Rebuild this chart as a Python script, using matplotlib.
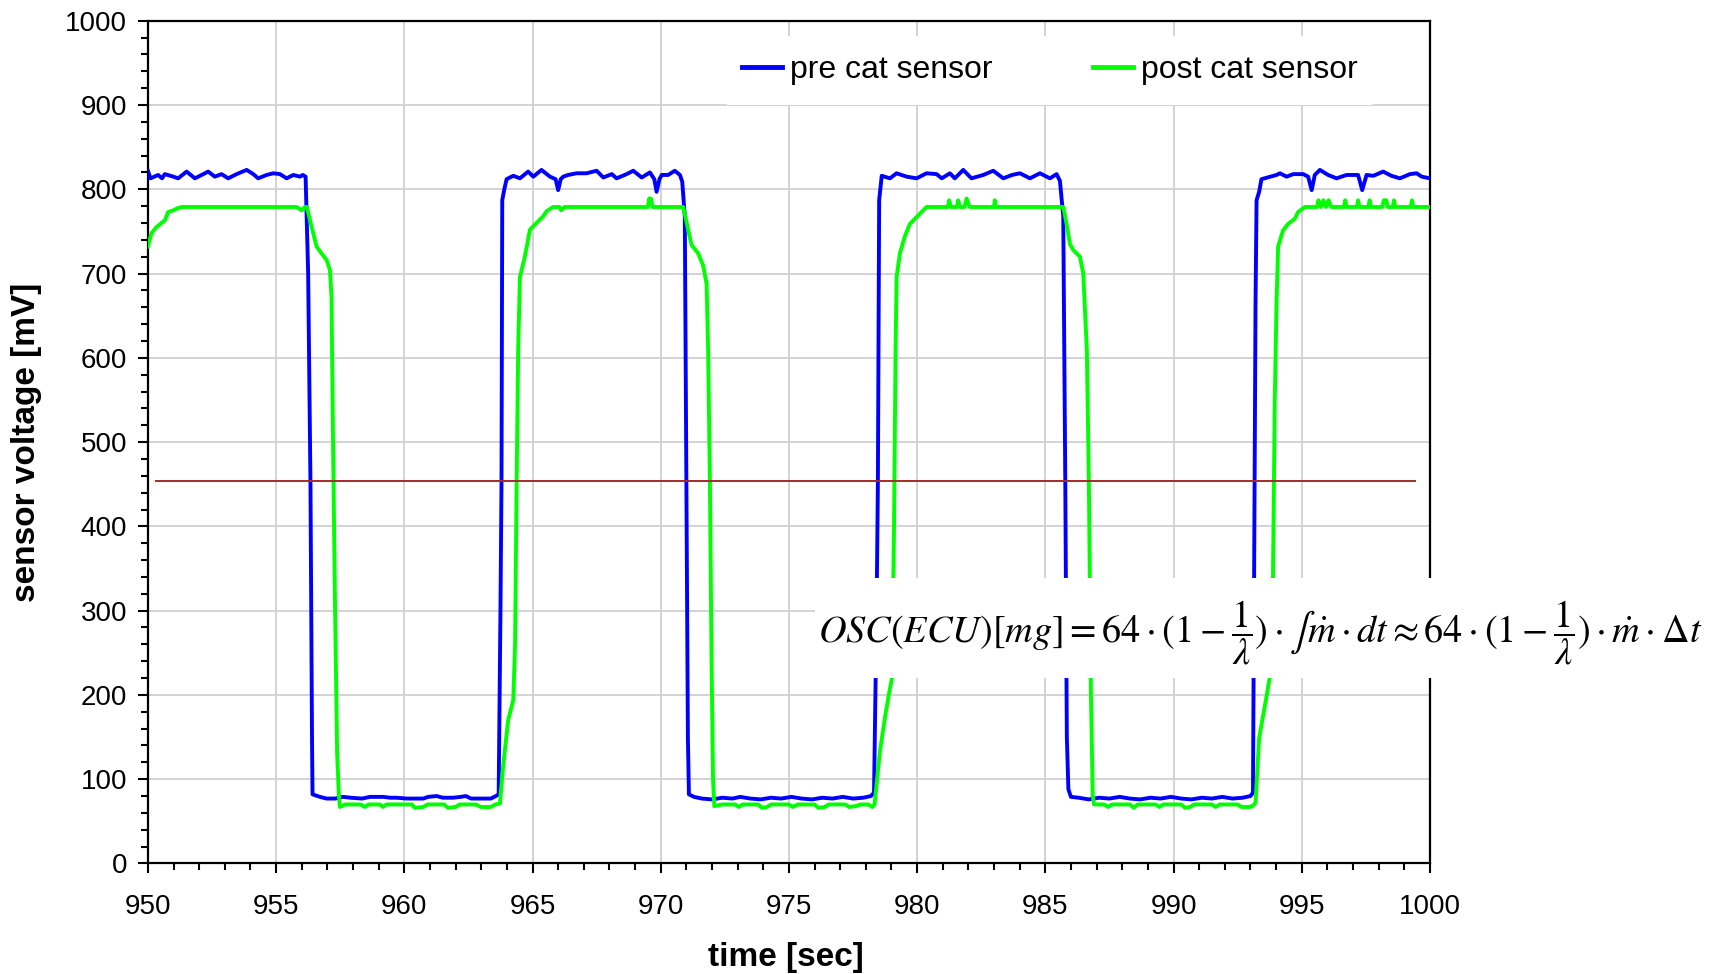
import matplotlib
matplotlib.use("Agg")
import matplotlib.pyplot as plt
from matplotlib.patches import Rectangle
from matplotlib.ticker import MultipleLocator

plt.rcParams['font.family'] = ['Liberation Sans', 'DejaVu Sans']
plt.rcParams['mathtext.fontset'] = 'stix'

# pre cat sensor (blue), time [sec] / voltage [mV]
pre_t = [950.0, 950.1, 950.4, 950.55, 950.66, 950.99, 951.18, 951.51, 951.83, 952.03,
         952.35, 952.61, 952.87, 953.13, 953.46, 953.85, 954.11, 954.3, 954.63, 954.89,
         955.15, 955.41, 955.67, 955.93, 956.04, 956.15,
         956.25, 956.34, 956.4, 956.42,
         956.71, 956.97, 957.3, 957.62, 957.9, 958.35, 958.66, 959.18, 959.45, 959.7,
         960.09, 960.74, 960.93, 961.26, 961.5, 961.9, 962.2, 962.4, 962.6, 963.38,
         963.57, 963.68,
         963.75, 963.79, 963.82, 963.9, 963.99,
         964.25, 964.51, 964.83, 965.03, 965.35, 965.68, 965.9, 966.0, 966.1, 966.2,
         966.39, 966.72, 967.11, 967.5, 967.76, 968.09, 968.28, 968.67, 968.93, 969.26,
         969.58, 969.75, 969.84, 969.95, 970.04, 970.29, 970.55, 970.75, 970.84, 970.94,
         971.0, 971.06, 971.1,
         971.3, 971.6, 972.0, 972.4, 972.8, 973.1, 973.5, 973.9, 974.3, 974.7,
         975.1, 975.5, 975.9, 976.3, 976.7, 977.1, 977.5, 977.9, 978.2, 978.32,
         978.42, 978.47, 978.52, 978.62,
         978.94, 979.2, 979.59, 979.98, 980.37, 980.76, 980.96, 981.28, 981.47, 981.8,
         982.12, 982.58, 982.97, 983.36, 983.7, 984.01, 984.4, 984.79, 985.18, 985.44,
         985.57, 985.7,
         985.78, 985.84, 985.9,
         986.0, 986.3, 986.7, 987.1, 987.5, 987.9, 988.3, 988.7, 989.1, 989.5,
         989.9, 990.3, 990.7, 991.1, 991.5, 991.9, 992.3, 992.7, 993.0, 993.1,
         993.16, 993.2, 993.24, 993.34, 993.43,
         994.02, 994.15, 994.41, 994.67, 995.06, 995.25, 995.39, 995.51, 995.71, 996.03,
         996.36, 996.75, 997.2, 997.36, 997.53, 997.79, 998.18, 998.5, 998.83, 999.22,
         999.48, 999.68, 1000.0]
pre_v = [822, 813, 817, 813, 818, 815, 813, 821, 813, 816,
         821, 815, 818, 813, 818, 823, 818, 813, 817, 819,
         818, 813, 817, 815, 817, 815,
         700, 450, 150, 82,
         79, 77, 77, 79, 78, 77, 79, 79, 78, 78,
         77, 77, 79, 80, 78, 78, 79, 80, 77, 77,
         80, 82,
         300, 450, 787, 800, 812,
         816, 813, 821, 815, 823, 815, 812, 799, 812, 815,
         817, 819, 819, 822, 814, 818, 813, 818, 822, 814,
         820, 812, 797, 812, 817, 817, 822, 817, 809, 768,
         450, 150, 82,
         79, 77, 76, 78, 77, 79, 77, 76, 78, 77,
         79, 77, 76, 78, 77, 79, 77, 78, 80, 84,
         300, 450, 787, 816,
         813, 819, 815, 813, 819, 818, 813, 819, 813, 823,
         813, 817, 822, 813, 817, 819, 813, 819, 813, 818,
         810, 768,
         450, 150, 88,
         79, 78, 76, 78, 77, 79, 77, 76, 78, 77,
         79, 77, 76, 78, 77, 79, 77, 78, 80, 84,
         450, 668, 787, 797, 812,
         817, 819, 815, 818, 818, 815, 799, 817, 823, 817,
         813, 817, 817, 799, 817, 816, 821, 816, 813, 818,
         819, 815, 813]

# post cat sensor (green)
post_t = [950.0, 950.14, 950.33, 950.53, 950.66, 950.79, 950.99, 951.12, 951.31, 955.8,
          956.0, 956.12, 956.2, 956.38, 956.58, 956.77, 956.97, 957.1, 957.16, 957.22,
          957.3, 957.38, 957.45, 957.49,
          957.69, 958.3, 958.46, 958.6, 959.05, 959.17, 959.3, 960.3, 960.41, 960.74,
          960.9, 961.55, 961.7, 962.0, 962.15, 962.8, 962.98, 963.38, 963.55, 963.73,
          963.85, 964.05, 964.25, 964.32, 964.38, 964.44, 964.51, 964.7, 964.9, 965.09,
          965.42, 965.55, 965.8, 966.05, 966.12, 966.25, 969.5, 969.55, 969.62, 969.68,
          970.88, 971.07, 971.2, 971.46, 971.65, 971.79, 971.85, 971.92, 971.98, 972.04,
          972.09,
          972.4, 972.9, 973.05, 973.2, 973.8, 973.95, 974.15, 974.3, 975.0, 975.15,
          975.35, 976.0, 976.15, 976.4, 976.55, 977.2, 977.35, 977.6, 977.8, 978.1,
          978.25, 978.34,
          978.55, 978.75, 978.89, 979.02, 979.1, 979.16, 979.2, 979.33, 979.52, 979.72,
          979.98, 980.17, 980.37, 981.2, 981.25, 981.32, 981.55, 981.6, 981.67, 981.85,
          981.93, 982.05, 983.0, 983.03, 983.08, 985.7, 985.83, 985.96, 986.09, 986.35,
          986.48, 986.62, 986.7, 986.78, 986.85, 986.9,
          987.3, 987.45, 987.6, 988.3, 988.45, 988.6, 989.3, 989.45, 989.6, 990.3,
          990.45, 990.65, 990.8, 991.5, 991.65, 991.8, 992.5, 992.65, 993.0, 993.15,
          993.2,
          993.34, 993.61, 993.75, 993.88, 993.95, 994.02, 994.08, 994.27, 994.47, 994.73,
          994.86, 995.12, 995.6, 995.65, 995.75, 995.85, 995.95, 996.05, 996.15, 996.65,
          996.7, 996.75, 997.15, 997.2, 997.25, 997.6, 997.65, 997.7, 998.15, 998.2,
          998.3, 998.35, 998.55, 998.6, 998.65, 999.25, 999.3, 999.35, 1000.0]
post_v = [732, 748, 755, 760, 763, 773, 775, 777, 779, 779,
          775, 779, 779, 756, 732, 724, 716, 704, 673, 500,
          300, 130, 80, 67,
          70, 70, 67, 70, 70, 67, 70, 70, 66, 67,
          70, 70, 66, 67, 70, 70, 67, 67, 70, 71,
          114, 170, 194, 260, 450, 609, 696, 720, 752, 758,
          768, 774, 779, 779, 775, 779, 779, 789, 789, 779,
          779, 752, 734, 724, 710, 688, 609, 450, 250, 100,
          68,
          70, 70, 67, 70, 70, 66, 67, 70, 70, 67,
          70, 70, 66, 67, 70, 70, 67, 68, 70, 70,
          67, 70,
          133, 174, 199, 220, 400, 609, 696, 724, 744, 759,
          767, 773, 779, 779, 787, 779, 779, 787, 779, 779,
          789, 779, 779, 787, 779, 779, 759, 735, 728, 720,
          700, 609, 450, 200, 80, 70,
          70, 67, 70, 70, 66, 70, 70, 67, 70, 70,
          66, 67, 70, 70, 67, 70, 70, 67, 67, 70,
          72,
          149, 195, 220, 341, 550, 668, 732, 751, 759, 765,
          773, 779, 779, 787, 779, 787, 779, 787, 779, 779,
          787, 779, 779, 787, 779, 779, 787, 779, 779, 787,
          787, 779, 779, 787, 779, 779, 787, 779, 779]

threshold_mv = 454
threshold_t = [950.3, 999.4]

formula = (r'$OSC(ECU)[mg] = 64\cdot(1-\dfrac{1}{\lambda})\cdot\int\dot{m}\cdot dt'
           r' \approx 64\cdot(1-\dfrac{1}{\lambda})\cdot\dot{m}\cdot\Delta t$')

fig = plt.figure(figsize=(17.1, 9.74), dpi=100)
ax = fig.add_axes([0.0865, 0.1135, 0.7497, 0.8652])

ax.plot(pre_t, pre_v, color='#0000ff', lw=2.8, label='pre cat sensor', zorder=3)
ax.plot(post_t, post_v, color='#00ff00', lw=2.8, label='post cat sensor', zorder=3)
ax.plot(threshold_t, [threshold_mv, threshold_mv], color='#a52a2a', lw=1.4, zorder=3.5)

ax.set_xlim(950, 1000)
ax.set_ylim(0, 1000)
ax.xaxis.set_major_locator(MultipleLocator(5))
ax.xaxis.set_minor_locator(MultipleLocator(1))
ax.yaxis.set_major_locator(MultipleLocator(100))
ax.yaxis.set_minor_locator(MultipleLocator(20))
ax.grid(True, which='major', color='#d0d0d0', lw=1.3)
ax.set_axisbelow(True)
ax.tick_params(which='major', direction='out', length=7, width=1.5, labelsize=20)
ax.tick_params(axis='x', which='major', pad=15)
ax.tick_params(axis='y', which='major', pad=8)
ax.tick_params(which='minor', direction='out', length=5, width=1.5)
for s in ax.spines.values():
    s.set_linewidth(1.6)

ax.set_xlabel('time [sec]', fontsize=24, fontweight='bold')
ax.set_ylabel('sensor voltage [mV]', fontsize=24, fontweight='bold')
ax.xaxis.set_label_coords(0.4975, -0.093)
ax.yaxis.set_label_coords(-0.083, 0.5)

leg = ax.legend(loc='center', bbox_to_anchor=(0.7035, 0.941), ncol=2, fontsize=23,
                frameon=True, facecolor='white', edgecolor='none', framealpha=1,
                handlelength=1.25, handletextpad=0.25, columnspacing=3.15,
                borderpad=0.6)
for h in leg.get_lines():
    h.set_linewidth(3.5)

# white box behind the formula, running past the right spine
box = Rectangle((815 / 1710, 1 - 678 / 974), (1710 - 815) / 1710, 100 / 974,
                transform=fig.transFigure, facecolor='white', edgecolor='none',
                zorder=4, clip_on=False)
ax.add_artist(box)
ax.text(818 / 1710, 1 - 642 / 974, formula, transform=fig.transFigure,
        fontsize=27.5, ha='left', va='baseline', zorder=5, clip_on=False)

fig.savefig('out.png', dpi=100)
